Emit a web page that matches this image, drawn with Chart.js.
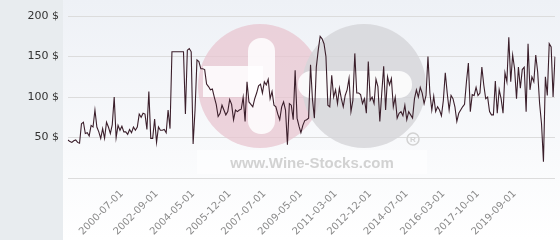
<!DOCTYPE html>
<html>
<head>
<meta charset="utf-8">
<script src="https://cdn.jsdelivr.net/npm/chart.js@4"></script>
<style>
  html, body { margin: 0; padding: 0; background: #fff; }
  #wrap { width: 560px; height: 240px; }
</style>
</head>
<body>
<div id="wrap"><canvas id="myChart" width="560" height="240"></canvas></div>
<script>
// prices, oldest first
const prices = [
  47, 45, 44, 46, 47, 44, 43, 67, 69, 55, 56, 52, 65, 63, 84, 63, 57, 49, 61, 49, 69, 63, 55, 66, 100, 50, 65, 59, 64, 57, 57, 54, 60, 56, 63, 59, 63, 79, 75, 80, 79, 60, 107, 49, 49, 73, 44, 63, 59, 59, 60,
  56, 84, 61, 156, 156, 156, 156, 156, 156, 156, 79, 158, 160, 156, 42, 84, 146, 144, 135, 135, 134, 116, 113, 109, 110, 100, 91, 76, 80, 90, 84, 78, 82, 97, 91, 72, 84, 82, 84, 85, 100, 70, 119, 94, 91, 88, 98, 105, 114, 116,
  105, 119, 115, 122, 98, 107, 90, 88, 79, 72, 88, 94, 84, 41, 92, 90, 72, 133, 74, 64, 56, 65, 71, 72, 74, 140, 97, 74, 137, 158, 175, 172, 166, 150, 90, 88, 127, 100, 109, 92, 111, 98, 88, 102, 109, 123, 82, 96, 154, 105,
  105, 103, 92, 98, 80, 144, 96, 100, 92, 122, 113, 70, 105, 138, 84, 125, 115, 123, 88, 100, 74, 80, 82, 77, 90, 72, 82, 78, 74, 98, 109, 100, 112, 105, 92, 102, 150, 105, 84, 101, 82, 88, 84, 77, 96, 130, 105, 84, 102, 98,
  88, 70, 80, 84, 88, 91, 119, 142, 82, 103, 102, 112, 102, 105, 137, 115, 98, 100, 82, 78, 78, 120, 80, 109, 98, 80, 130, 119, 174, 119, 152, 135, 98, 137, 111, 134, 137, 82, 166, 109, 125, 119, 152, 131, 92, 67, 20, 125, 102, 166, 162, 100, 150
]
// dates shown under the axis and the point each one belongs to
const tickLabels = ['2000-07-01', '2002-09-01', '2004-05-01', '2005-12-01', '2007-07-01', '2009-05-01', '2011-03-01', '2012-12-01', '2014-07-01', '2016-03-01', '2017-10-01', '2019-09-01']
const tickIndex = [28, 46, 65, 84, 102, 121, 139, 157, 176, 195, 213, 232]
const yTicks = [0, 50, 100, 150, 200]

const categories = prices.map((_, i) => {
  const k = tickIndex.indexOf(i)
  return k >= 0 ? tickLabels[k] : ''
})

const background = {
  id: 'background',
  beforeDraw(chart) {
    const { ctx, width, height } = chart
    ctx.save()
    const g = ctx.createLinearGradient(0, 0, 0, height)
    g.addColorStop(0, '#eef1f6')
    g.addColorStop(1, '#ffffff')
    ctx.fillStyle = g
    ctx.fillRect(0, 0, width, height)
    ctx.fillStyle = '#e8ecef'
    ctx.fillRect(0, 0, 63, height)
    ctx.restore()
  }
}

// faded logo behind the line
const watermark = {
  id: 'watermark',
  beforeDatasetsDraw(chart) {
    const ctx = chart.ctx
    ctx.save()
    ctx.fillStyle = 'rgba(232, 198, 208, 0.75)'
    ctx.beginPath(); ctx.arc(260, 86, 62, 0, Math.PI * 2); ctx.fill()
    ctx.fillStyle = 'rgba(212, 212, 216, 0.8)'
    ctx.beginPath(); ctx.arc(364, 86, 62, 0, Math.PI * 2); ctx.fill()
    ctx.fillStyle = 'rgba(255, 255, 255, 0.85)'
    ctx.beginPath(); ctx.roundRect(248, 38, 27, 96, 13); ctx.fill()
    ctx.beginPath(); ctx.rect(203, 66, 60, 31); ctx.fill()
    ctx.beginPath(); ctx.roundRect(298, 71, 114, 27, 13); ctx.fill()
    ctx.fillStyle = 'rgba(255, 255, 255, 0.55)'
    ctx.fillRect(197, 150, 230, 24)
    ctx.fillStyle = '#d2d2d2'
    ctx.font = 'bold 15px "Liberation Sans"'
    ctx.textAlign = 'center'
    ctx.textBaseline = 'alphabetic'
    ctx.fillText('www.Wine-Stocks.com', 312, 168)
    ctx.strokeStyle = '#d2d2d2'
    ctx.lineWidth = 1.5
    ctx.beginPath(); ctx.arc(413, 139, 6, 0, Math.PI * 2); ctx.stroke()
    ctx.font = 'bold 8px "Liberation Sans"'
    ctx.fillText('R', 413, 142)
    ctx.restore()
  }
}

const ctx = document.getElementById('myChart')
new Chart(ctx, {
  type: 'line',
  data: {
    labels: categories,
    datasets: [{
      data: prices,
      borderColor: '#3b1f2b',
      borderWidth: 1.1,
      pointRadius: 0,
      tension: 0,
      fill: false
    }]
  },
  options: {
    responsive: false,
    animation: false,
    events: [],
    layout: { padding: { top: 0, right: 5, left: 0, bottom: 0 } },
    plugins: { legend: { display: false }, tooltip: { enabled: false } },
    scales: {
      x: {
        grid: { display: false },
        border: { display: false },
        afterFit: s => { s.height = 62; s.paddingLeft = 0; s.paddingRight = 0 },
        ticks: {
          autoSkip: false,
          minRotation: 45,
          maxRotation: 45,
          padding: 2,
          color: '#8a8a8a',
          font: { family: 'DejaVu Sans', size: 10 },
          callback: (v, i) => categories[i]
        }
      },
      y: {
        min: 0,
        max: 220,
        afterBuildTicks: s => { s.ticks = yTicks.map(v => ({ value: v })) },
        afterFit: s => { s.width = 68; s.paddingTop = 0; s.paddingBottom = 0 },
        grid: { color: '#dcdcdc', drawTicks: false, lineWidth: 1 },
        border: { display: false },
        ticks: {
          padding: 9,
          color: '#333',
          font: { family: 'DejaVu Sans', size: 11 },
          callback: v => v === 0 ? '' : v + ' $'
        }
      }
    }
  },
  plugins: [background, watermark]
})
</script>
</body>
</html>
